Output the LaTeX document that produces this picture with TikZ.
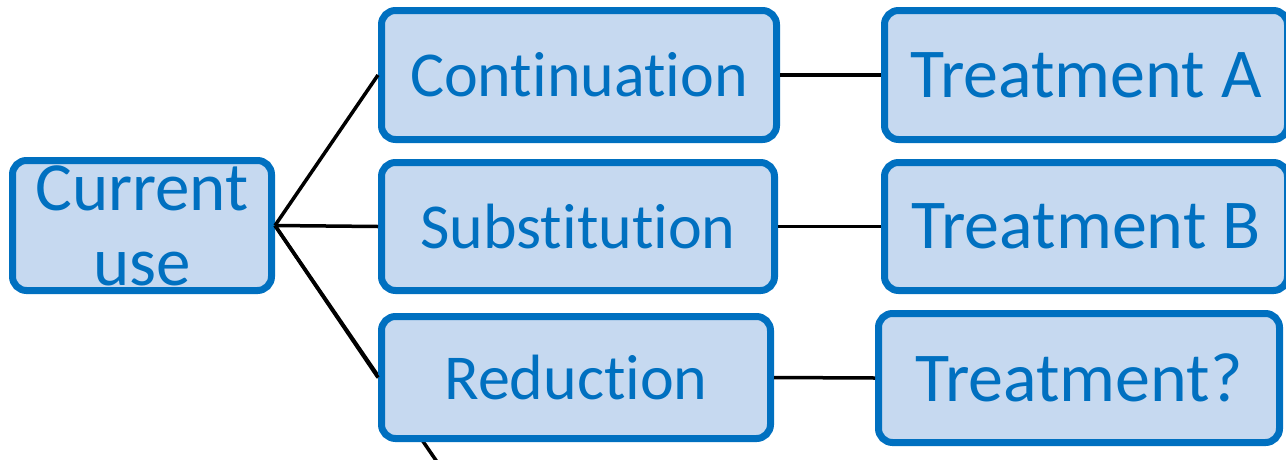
\documentclass[tikz,border=0pt]{standalone}
\usepackage{fontspec}
\setmainfont[Ligatures={NoCommon,NoContextual,NoRare}]{Carlito}
\newcommand{\nlg}{\kern0pt}
\definecolor{boxfill}{HTML}{C6D9F0}
\definecolor{boxline}{HTML}{0070C0}
\tikzset{
  box/.style={draw=boxline, fill=boxfill, line width=7pt, rounded corners=14pt,
    inner sep=0pt, text=boxline, align=center},
  curfont/.style={font=\fontsize{69}{75}\selectfont},
  midfont/.style={font=\fontsize{64}{74}\selectfont},
  bigfont/.style={font=\fontsize{70}{78}\selectfont},
  link/.style={draw=black, line width=3.5pt}
}
\begin{document}
\begin{tikzpicture}[x=1pt,y=-1pt]
\useasboundingbox (0,0) rectangle (1286,459);
\clip (0,0) rectangle (1286,459);
\node[box, curfont, minimum width=259pt, minimum height=130pt] (cur) at (142,225.5) {Current\\use};
\coordinate (below) at (444,472);
\draw[link] (cur.east) -- (below);
\node[box, midfont, minimum width=395pt, minimum height=129pt] (cont) at (579,75) {Cont\nlg inuat\nlg ion};
\node[box, midfont, minimum width=393pt, minimum height=128pt] (subs) at (578,226.5) {Subst\nlg itut\nlg ion};
\node[box, midfont, minimum width=389pt, minimum height=122pt] (red) at (576,377.5) {Reduct\nlg ion};
\node[box, bigfont, minimum width=403pt, minimum height=129pt] (ta) at (1086,75) {Treatment A};
\node[box, bigfont, minimum width=403pt, minimum height=128pt] (tb) at (1086,226.5) {Treatment B};
\node[box, bigfont, minimum width=401pt, minimum height=129pt] (tq) at (1079,378) {Treatment?};
\draw[link] (cur.east) -- (cont.west);
\draw[link] (cur.east) -- (subs.west);
\draw[link] (cur.east) -- (red.west);
\draw[link] (cont.east) -- (ta.west);
\draw[link] (subs.east) -- (tb.west);
\draw[link] (red.east) -- (tq.west);
\end{tikzpicture}
\end{document}
